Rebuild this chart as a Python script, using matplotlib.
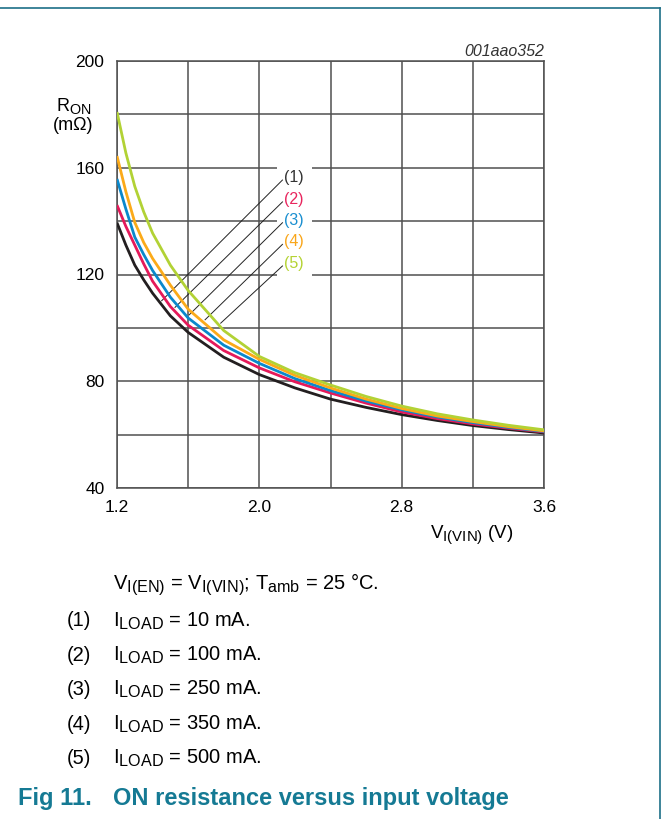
import numpy as np
import matplotlib
matplotlib.use("Agg")
import matplotlib.pyplot as plt
from matplotlib.lines import Line2D
from matplotlib.patches import Rectangle
try:
    import matplotlib._mathtext as _mt
    _mt.SHRINK_FACTOR = 0.8
except Exception:
    pass

plt.rcParams['font.family'] = ['Liberation Sans', 'DejaVu Sans']
plt.rcParams['mathtext.fontset'] = 'custom'
plt.rcParams['mathtext.rm'] = 'Liberation Sans'
plt.rcParams['mathtext.it'] = 'Liberation Sans:italic'
plt.rcParams['mathtext.bf'] = 'Liberation Sans:bold'

# ---- data ----
v_in = [1.2, 1.25, 1.3, 1.35, 1.4, 1.5, 1.6, 1.8, 2.0, 2.2, 2.4, 2.6, 2.8, 3.0, 3.2, 3.4, 3.6]
r_10mA = [139.4, 131.0, 123.5, 118.0, 113.0, 104.5, 98.3, 89.0, 82.5, 77.5, 73.3, 70.2, 67.5, 65.3, 63.4, 61.9, 60.6]
r_100mA = [146.0, 138.0, 131.0, 124.0, 117.5, 108.0, 101.0, 91.5, 85.0, 79.8, 75.6, 71.8, 68.5, 66.0, 64.0, 62.4, 61.0]
r_250mA = [155.8, 144.5, 134.0, 127.5, 121.5, 111.5, 103.7, 93.5, 86.7, 81.0, 76.5, 72.6, 69.3, 66.6, 64.5, 62.7, 61.2]
r_350mA = [164.4, 151.0, 139.5, 132.0, 126.0, 116.0, 107.0, 95.5, 88.2, 82.2, 77.5, 73.3, 69.8, 67.0, 64.9, 63.0, 61.4]
r_500mA = [180.9, 165.5, 153.0, 143.5, 135.5, 123.5, 114.0, 99.0, 89.3, 83.2, 78.6, 74.3, 70.7, 67.8, 65.5, 63.5, 61.8]

series = [r_10mA, r_100mA, r_250mA, r_350mA, r_500mA]
curve_labels = ['(1)', '(2)', '(3)', '(4)', '(5)']
load_currents = ['10', '100', '250', '350', '500']
x_grid = [1.2, 1.6, 2.0, 2.4, 2.8, 3.2, 3.6]
x_tick_labels = {1.2: '1.2', 2.0: '2.0', 2.8: '2.8', 3.6: '3.6'}
y_grid = [40, 60, 80, 100, 120, 140, 160, 180, 200]
y_tick_labels = {40: '40', 80: '80', 120: '120', 160: '160', 200: '200'}

curve_colors = ['#231f20', '#e5195a', '#0a88cc', '#fbaa19', '#b2d235']
label_colors = ['#333333', '#e8265e', '#1a8fd0', '#f9a61a', '#b5d334']
label_y = [156.4, 148.2, 140.4, 132.3, 124.2]
leader_end_x = [1.451, 1.526, 1.606, 1.695, 1.783]

teal = '#157a94'
grid_col = '#505050'
W, H = 662, 819

def fx(px):
    return px / W

def fy(py):
    return 1 - py / H

fig = plt.figure(figsize=(6.62, 8.19), dpi=100)
ax = fig.add_axes([fx(117), fy(488), 427 / W, 427 / H])

ax.set_xlim(1.2, 3.6)
ax.set_ylim(40, 200)
ax.set_xticks(x_grid, labels=[x_tick_labels.get(v, '') for v in x_grid])
ax.set_yticks(y_grid, labels=[y_tick_labels.get(v, '') for v in y_grid])
ax.grid(True, color=grid_col, lw=1.1)
ax.set_axisbelow(True)
ax.tick_params(length=0, labelsize=12.5, pad=9)
for s in ax.spines.values():
    s.set_color(grid_col)
    s.set_linewidth(1.1)

# white box behind the curve labels
ax.add_patch(Rectangle((2.099, 118.5), 0.197, 43.5, facecolor='white',
                       edgecolor='none', zorder=1.5))

for ys, c in zip(series, curve_colors):
    ax.plot(v_in, ys, color=c, lw=2.0, zorder=4, solid_capstyle='butt')

for lab, lc, ly, xe, ys in zip(curve_labels, label_colors, label_y, leader_end_x, series):
    ye = np.interp(xe, v_in, ys) + 1.5
    ax.plot([2.13, xe], [ly - 1.0, ye], color='#222222', lw=0.7, zorder=3)
    ax.text(2.14, ly, lab, color=lc, fontsize=11.5, ha='left', va='center', zorder=5)

fig.text(fx(544), fy(56), '001aao352', fontsize=11.5, style='italic', color='#333333',
         ha='right', va='baseline')

fig.text(fx(56), fy(111), r'R$_{\mathrm{ON}}$', fontsize=13, ha='left', va='baseline')
fig.text(fx(53), fy(130), '(mΩ)', fontsize=13, ha='left', va='baseline')
fig.text(fx(430), fy(538), r'V$_{\mathrm{I(VIN)}}$ (V)', fontsize=13.5,
         ha='left', va='baseline')

fs = 14.5
fig.text(fx(113), fy(590),
         r'V$_{\mathrm{I(EN)}}$ = V$_{\mathrm{I(VIN)}}$; T$_{\mathrm{amb}}$ = 25 °C.',
         fontsize=fs, ha='left', va='baseline')
row_base = [626.5, 661.0, 695.0, 729.5, 764.0]
for lab, cur, ry in zip(curve_labels, load_currents, row_base):
    fig.text(fx(67), fy(ry), lab, fontsize=fs, ha='left', va='baseline')
    fig.text(fx(113), fy(ry), r'I$_{\mathrm{LOAD}}$ = ' + cur + ' mA.',
             fontsize=fs, ha='left', va='baseline')

fig.text(fx(92), fy(805), 'Fig 11.', fontsize=17, fontweight='bold',
         color=teal, ha='right', va='baseline')
fig.text(fx(113), fy(805), 'ON resistance versus input voltage', fontsize=17,
         fontweight='bold', color=teal, ha='left', va='baseline')

# frame lines (top and right)
fig.add_artist(Line2D([0, fx(659.5)], [fy(8), fy(8)], color='#1d6f88', lw=1.2,
                      transform=fig.transFigure))
fig.add_artist(Line2D([fx(659.5), fx(659.5)], [0, fy(8)], color='#1d6f88', lw=1.2,
                      transform=fig.transFigure))

fig.savefig('out.png', dpi=100)
